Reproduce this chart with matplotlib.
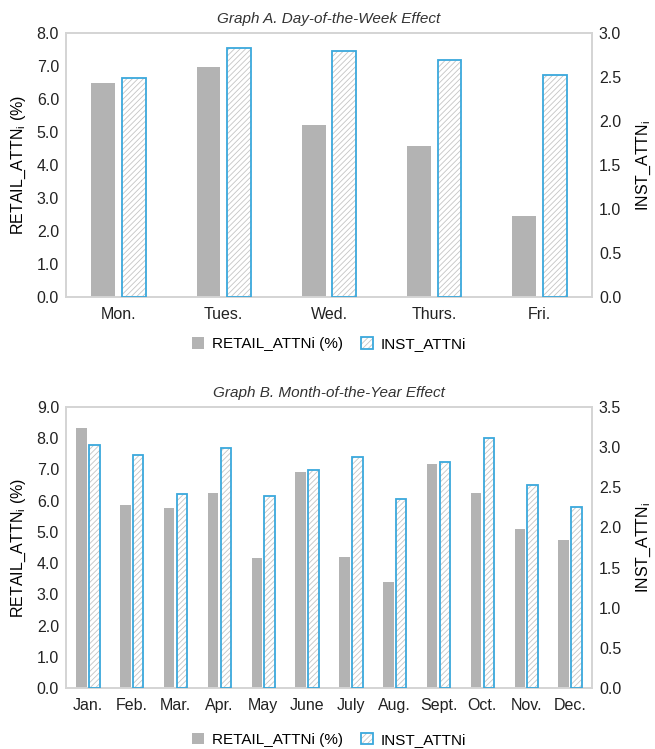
import numpy as np
import matplotlib.pyplot as plt
from matplotlib.legend_handler import HandlerTuple

plt.rcParams['font.family'] = ['Liberation Sans', 'DejaVu Sans']
plt.rcParams['hatch.linewidth'] = 0.6

days = ['Mon.', 'Tues.', 'Wed.', 'Thurs.', 'Fri.']
retail_day = [6.47, 6.98, 5.20, 4.57, 2.45]
inst_day = [2.49, 2.83, 2.80, 2.69, 2.52]

months = ['Jan.', 'Feb.', 'Mar.', 'Apr.', 'May', 'June', 'July', 'Aug.',
          'Sept.', 'Oct.', 'Nov.', 'Dec.']
retail_month = [8.33, 5.85, 5.75, 6.25, 4.17, 6.92, 4.19, 3.38, 7.16, 6.25, 5.08, 4.73]
inst_month = [3.03, 2.90, 2.42, 2.99, 2.39, 2.71, 2.88, 2.36, 2.81, 3.12, 2.53, 2.26]

GRAY = '#b3b3b3'
BLUE = '#3aa8dc'
SPINE = '#d4d4d4'


def draw_panel(ax, cats, retail, inst, title, lmax, rmax, rstep, width, off, leg_y):
    x = np.arange(len(cats))
    ax2 = ax.twinx()
    b1 = ax.bar(x - off, retail, width, color=GRAY, zorder=2)
    # hatched fill and blue outline drawn separately so the hatch stays grey
    hb = ax2.bar(x + off, inst, width, color='white', edgecolor='#c4c4c4',
                 hatch='//////', linewidth=0, zorder=2)
    ob = ax2.bar(x + off, inst, width, fill=False, edgecolor=BLUE,
                 linewidth=1.3, zorder=3)

    ax.set_xlim(-0.5, len(cats) - 0.5)
    ax.set_ylim(0, lmax)
    lt = np.arange(0, lmax + 0.01, 1.0)
    ax.set_yticks(lt)
    ax.set_yticklabels([f'{v:.1f}' for v in lt])
    ax2.set_ylim(0, rmax)
    rt = np.arange(0, rmax + 0.01, rstep)
    ax2.set_yticks(rt)
    ax2.set_yticklabels([f'{v:.1f}' for v in rt])
    ax.set_xticks(x)
    ax.set_xticklabels(cats)

    for a in (ax, ax2):
        a.tick_params(length=0, labelsize=11.5, colors='#222222', pad=5)
        for s in a.spines.values():
            s.set_color(SPINE)
            s.set_linewidth(1.2)
    ax.tick_params(axis='x', pad=7)

    ax.set_ylabel(r'RETAIL_ATTN$_\mathregular{i}$ (%)', fontsize=11.5, labelpad=6)
    ax2.set_ylabel(r'INST_ATTN$_\mathregular{i}$', fontsize=11.5, labelpad=10)
    ax.set_title(title, fontsize=11, style='italic', color='#333333', pad=7)

    ax.legend([b1, (hb, ob)], ['RETAIL_ATTNi (%)', 'INST_ATTNi'],
              handler_map={tuple: HandlerTuple(ndivide=1)},
              loc='upper center', bbox_to_anchor=(0.5, leg_y), ncol=2,
              frameon=False, fontsize=11, handlelength=0.8, handleheight=0.8,
              columnspacing=1.2, handletextpad=0.5)


fig = plt.figure(figsize=(6.55, 7.49), dpi=100)
W, H = 655, 749
ax_a = fig.add_axes([66 / W, 1 - 297 / H, (592 - 66) / W, (297 - 33) / H])
ax_b = fig.add_axes([66 / W, 1 - 688 / H, (592 - 66) / W, (688 - 407) / H])

draw_panel(ax_a, days, retail_day, inst_day, 'Graph A. Day-of-the-Week Effect',
           8.0, 3.0, 0.5, 0.226, 0.145, -0.10)
draw_panel(ax_b, months, retail_month, inst_month, 'Graph B. Month-of-the-Year Effect',
           9.0, 3.5, 0.5, 0.24, 0.145, -0.11)

fig.savefig('out.png', dpi=100)
